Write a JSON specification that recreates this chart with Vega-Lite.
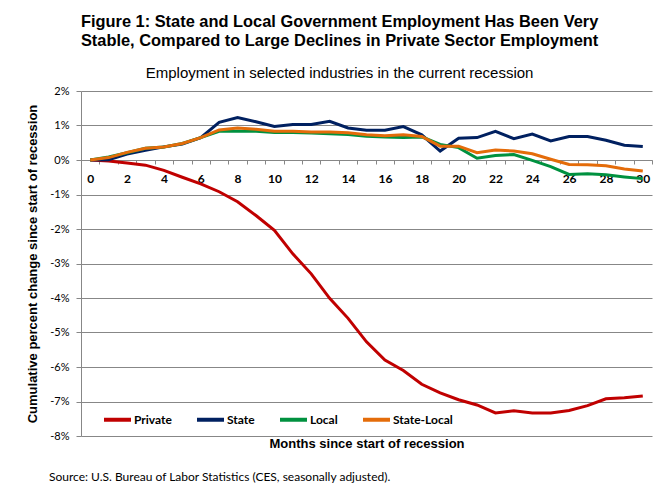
{
  "$schema": "https://vega.github.io/schema/vega-lite/v6.json",
  "padding": {"left": 26, "top": 13, "right": 5, "bottom": 5},
  "background": "white",
  "title": {
    "text": ["Figure 1: State and Local Government Employment Has Been Very", "Stable, Compared to Large Declines in Private Sector Employment"],
    "subtitle": "Employment in selected industries in the current recession",
    "anchor": "middle",
    "font": "Liberation Sans",
    "fontSize": 16.4,
    "fontWeight": "bold",
    "lineHeight": 19,
    "color": "black",
    "subtitleFont": "Liberation Sans",
    "subtitleFontSize": 15,
    "subtitleColor": "black",
    "subtitlePadding": 17,
    "offset": 4
  },
  "vconcat": [
    {
      "width": 571,
      "height": 345,
      "title": {
        "text": "Source: U.S. Bureau of Labor Statistics (CES, seasonally adjusted).",
        "orient": "bottom",
        "anchor": "start",
        "frame": "group",
        "dx": -32,
        "font": "Lato",
        "fontSize": 12,
        "fontWeight": "normal",
        "color": "black",
        "offset": 22
      },
      "data": {
        "values": [
          {"m": 0, "Private": 0, "State": 0, "Local": 0, "State-Local": 0},
          {"m": 1, "Private": -0.03, "State": 0.01, "Local": 0.09, "State-Local": 0.07},
          {"m": 2, "Private": -0.09, "State": 0.17, "Local": 0.21, "State-Local": 0.22},
          {"m": 3, "Private": -0.15, "State": 0.28, "Local": 0.34, "State-Local": 0.34},
          {"m": 4, "Private": -0.30, "State": 0.38, "Local": 0.38, "State-Local": 0.38},
          {"m": 5, "Private": -0.50, "State": 0.46, "Local": 0.48, "State-Local": 0.48},
          {"m": 6, "Private": -0.69, "State": 0.65, "Local": 0.65, "State-Local": 0.65},
          {"m": 7, "Private": -0.92, "State": 1.09, "Local": 0.83, "State-Local": 0.87},
          {"m": 8, "Private": -1.21, "State": 1.23, "Local": 0.83, "State-Local": 0.93},
          {"m": 9, "Private": -1.61, "State": 1.11, "Local": 0.83, "State-Local": 0.89},
          {"m": 10, "Private": -2.04, "State": 0.97, "Local": 0.80, "State-Local": 0.83},
          {"m": 11, "Private": -2.72, "State": 1.03, "Local": 0.80, "State-Local": 0.83},
          {"m": 12, "Private": -3.30, "State": 1.03, "Local": 0.78, "State-Local": 0.81},
          {"m": 13, "Private": -4.01, "State": 1.12, "Local": 0.76, "State-Local": 0.81},
          {"m": 14, "Private": -4.59, "State": 0.93, "Local": 0.74, "State-Local": 0.79},
          {"m": 15, "Private": -5.27, "State": 0.86, "Local": 0.69, "State-Local": 0.73},
          {"m": 16, "Private": -5.80, "State": 0.86, "Local": 0.67, "State-Local": 0.70},
          {"m": 17, "Private": -6.10, "State": 0.97, "Local": 0.65, "State-Local": 0.73},
          {"m": 18, "Private": -6.50, "State": 0.73, "Local": 0.67, "State-Local": 0.68},
          {"m": 19, "Private": -6.75, "State": 0.26, "Local": 0.45, "State-Local": 0.40},
          {"m": 20, "Private": -6.95, "State": 0.63, "Local": 0.36, "State-Local": 0.40},
          {"m": 21, "Private": -7.10, "State": 0.65, "Local": 0.05, "State-Local": 0.21},
          {"m": 22, "Private": -7.33, "State": 0.83, "Local": 0.13, "State-Local": 0.29},
          {"m": 23, "Private": -7.27, "State": 0.62, "Local": 0.16, "State-Local": 0.26},
          {"m": 24, "Private": -7.33, "State": 0.75, "Local": -0.01, "State-Local": 0.18},
          {"m": 25, "Private": -7.33, "State": 0.55, "Local": -0.19, "State-Local": 0.02},
          {"m": 26, "Private": -7.26, "State": 0.68, "Local": -0.42, "State-Local": -0.13},
          {"m": 27, "Private": -7.12, "State": 0.68, "Local": -0.40, "State-Local": -0.14},
          {"m": 28, "Private": -6.92, "State": 0.57, "Local": -0.43, "State-Local": -0.17},
          {"m": 29, "Private": -6.89, "State": 0.43, "Local": -0.49, "State-Local": -0.26},
          {"m": 30, "Private": -6.84, "State": 0.39, "Local": -0.54, "State-Local": -0.32}
        ]
      },
      "transform": [
        {"fold": ["Private", "State", "Local", "State-Local"], "as": ["series", "value"]}
      ],
      "mark": {"type": "line", "strokeWidth": 3, "strokeCap": "butt"},
      "encoding": {
        "x": {
          "field": "m",
          "type": "quantitative",
          "scale": {"domain": [-0.5, 30.5], "nice": false, "zero": false},
          "axis": {
            "values": [0,1,2,3,4,5,6,7,8,9,10,11,12,13,14,15,16,17,18,19,20,21,22,23,24,25,26,27,28,29,30],
            "labelExpr": "datum.value % 2 == 0 ? datum.label : ''",
            "grid": false,
            "offset": -276,
            "domainColor": "#878787",
            "tickColor": "#878787",
            "tickSize": 4,
            "tickOffset": 9.21,
            "labelOffset": -9.21,
            "labelPadding": 9,
            "labelFont": "Lato",
            "labelFontWeight": "bold",
            "labelFontSize": 12,
            "labelColor": "black",
            "labelFlush": false,
            "labelOverlap": false,
            "title": "Months since start of recession",
            "titleFont": "Liberation Sans",
            "titleFontSize": 13,
            "titleFontWeight": "bold",
            "titleColor": "black",
            "titleY": 277,
            "titleBaseline": "top"
          }
        },
        "y": {
          "field": "value",
          "type": "quantitative",
          "scale": {"domain": [-8, 2], "nice": false, "zero": false},
          "axis": {
            "values": [-8,-7,-6,-5,-4,-3,-2,-1,0,1,2],
            "labelExpr": "datum.value + '%'",
            "grid": true,
            "gridColor": "#878787",
            "domainColor": "#878787",
            "tickColor": "#878787",
            "tickSize": 5,
            "labelPadding": 7,
            "labelFont": "Lato",
            "labelFontSize": 11,
            "labelColor": "black",
            "labelOverlap": false,
            "title": "Cumulative percent change since start of recession",
            "titleFont": "Liberation Sans",
            "titleFontSize": 13,
            "titleFontWeight": "bold",
            "titleColor": "black",
            "titlePadding": 10
          }
        },
        "color": {
          "field": "series",
          "type": "nominal",
          "scale": {
            "domain": ["Private", "State", "Local", "State-Local"],
            "range": ["#C00000", "#002060", "#00913F", "#E46C0A"]
          },
          "legend": {
            "title": null,
            "orient": "none",
            "legendX": 21,
            "legendY": 313,
            "direction": "horizontal",
            "symbolType": "stroke",
            "symbolSize": 729,
            "symbolStrokeWidth": 4,
            "labelFont": "Lato",
            "labelFontSize": 12,
            "labelFontWeight": "bold",
            "labelColor": "black",
            "labelOffset": 1,
            "columnPadding": 17
          }
        }
      }
    }
  ],
  "config": {"view": {"stroke": null}}
}
